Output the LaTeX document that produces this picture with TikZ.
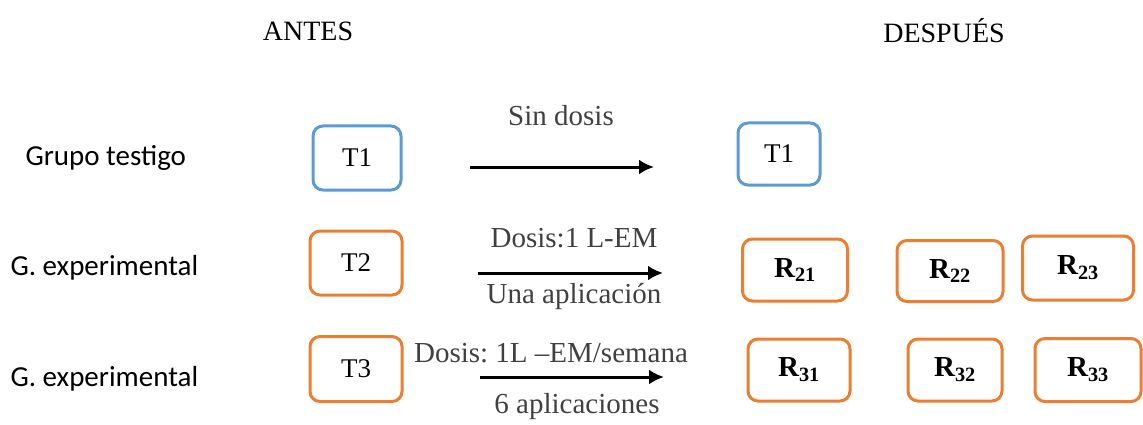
\documentclass[tikz,border=0pt]{standalone}
\usepackage{fontspec}
\setmainfont{Liberation Serif}
\newfontfamily\labelfont{Carlito}
\usetikzlibrary{arrows.meta}
\definecolor{boxblue}{HTML}{5B9BD5}
\definecolor{boxorange}{HTML}{ED7D31}
\definecolor{darktext}{HTML}{404040}
\frenchspacing
\begin{document}
\begin{tikzpicture}[x=1pt,y=-1pt,
  tbox/.style={draw,rounded corners=10pt,line width=3pt,inner sep=0pt,
    font=\fontsize{27}{32}\selectfont},
  bluebox/.style={tbox,draw=boxblue},
  orangebox/.style={tbox,draw=boxorange},
  rbox/.style={orangebox,font=\fontsize{29}{34}\selectfont\bfseries},
  arrowtext/.style={text=darktext,font=\fontsize{29}{34}\selectfont},
  grouptext/.style={anchor=west,font=\labelfont\fontsize{29}{34}\selectfont},
  dose/.style={-{Latex[length=15pt,width=15pt]},line width=3pt}]
\useasboundingbox (0,0) rectangle (1143,425);

\node[font=\fontsize{28}{33}\selectfont] (antes) at (308,31) {ANTES};
\node[font=\fontsize{28}{33}\selectfont] (despues) at (944,31) {DESPUÉS};

\node[grouptext] (testigo) at (22,158) {Grupo testigo};
\node[grouptext] (exp2) at (7,268) {G. experimental};
\node[grouptext] (exp3) at (7,379) {G. experimental};

% antes
\node[bluebox,minimum width=88pt,minimum height=64pt] (t1) at (357,158) {T1};
\node[orangebox,minimum width=92pt,minimum height=64pt] (t2) at (356,263) {T2};
\node[orangebox,minimum width=92pt,minimum height=65pt] (t3) at (356,369) {T3};

% despues
\node[bluebox,minimum width=82pt,minimum height=62pt] (t1b) at (779,154) {T1};
\node[rbox,minimum width=105pt,minimum height=62pt] (r21) at (795,270) {R\textsubscript{21}};
\node[rbox,minimum width=106pt,minimum height=61pt] (r22) at (950,271) {R\textsubscript{22}};
\node[rbox,minimum width=111pt,minimum height=64pt] (r23) at (1078,268) {R\textsubscript{23}};
\node[rbox,minimum width=102pt,minimum height=62pt] (r31) at (799,370) {R\textsubscript{31}};
\node[rbox,minimum width=94pt,minimum height=62pt] (r32) at (955,370) {R\textsubscript{32}};
\node[rbox,minimum width=106pt,minimum height=63pt] (r33) at (1088,370) {R\textsubscript{33}};

% flechas
\coordinate (a1s) at (470,167);
\coordinate (a1e) at (654,167);
\coordinate (a2s) at (478,273);
\coordinate (a2e) at (663,273);
\coordinate (a3s) at (480,377);
\coordinate (a3e) at (664,377);
\draw[dose] (a1s) -- (a1e);
\draw[dose] (a2s) -- (a2e);
\draw[dose] (a3s) -- (a3e);

\node[arrowtext] (sin) at (561,116) {Sin dosis};
\node[arrowtext] (dosis2) at (574,238) {Dosis:1 L-EM};
\node[arrowtext] (una) at (574,297) {Una aplicación};
\node[arrowtext] (dosis3) at (551,353) {Dosis: 1L –EM/semana};
\node[arrowtext] (seis) at (577,407) {6 aplicaciones};
\end{tikzpicture}
\end{document}
